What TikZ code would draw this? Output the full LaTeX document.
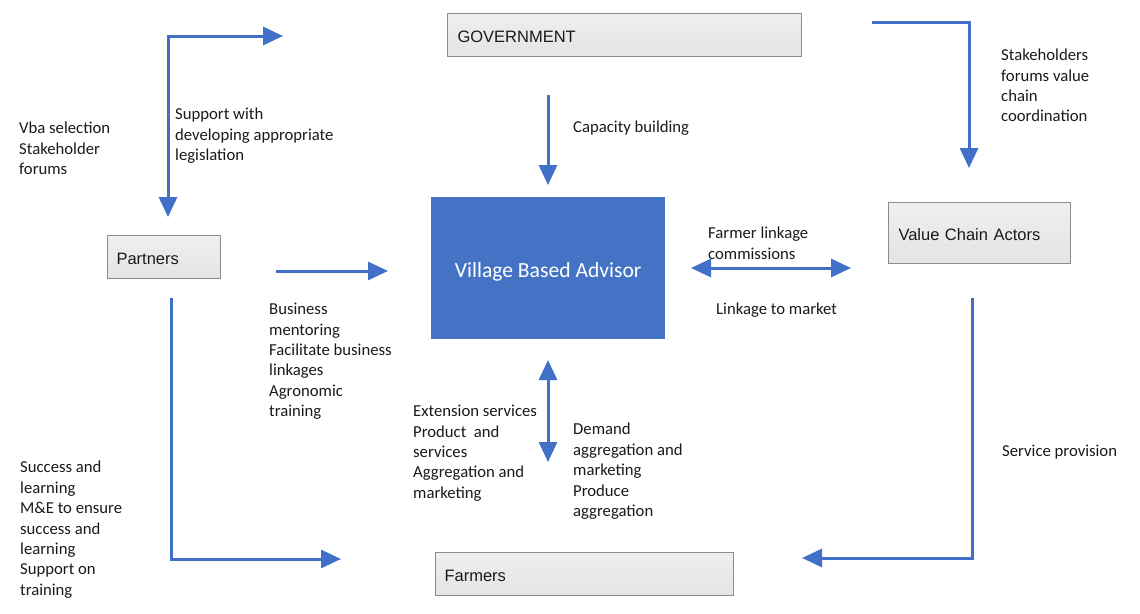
\documentclass[tikz,border=0pt]{standalone}
\usepackage{fontspec}
\setmainfont{Carlito}
\newfontfamily\boxfont{Liberation Sans}
\usetikzlibrary{arrows.meta}
\definecolor{arrowblue}{HTML}{4070C8}
\definecolor{vbablue}{HTML}{4472C4}
\definecolor{boxfill}{HTML}{E4E4E4}
\definecolor{boxline}{HTML}{8C8C8C}
\definecolor{txt}{HTML}{1A1A1A}
\tikzset{
  flow/.style={draw=arrowblue, line width=3pt, -{Triangle[length=20pt,width=18pt]}},
  flowboth/.style={draw=arrowblue, line width=3pt, {Triangle[length=20pt,width=18pt]}-{Triangle[length=20pt,width=18pt]}},
  graybox/.style={draw=boxline, line width=1pt, top color=boxfill!60!white, bottom color=boxfill, anchor=north west,
    font=\boxfont\fontsize{16.5}{19}\selectfont, text=txt, align=left, inner ysep=0pt,
    text height=15.5pt, text depth=0pt},
  lbl/.style={anchor=north west, inner sep=0pt, align=left, text=txt,
    font=\fontsize{16.7}{20.4}\selectfont}
}
\begin{document}
\begin{tikzpicture}[x=1pt,y=-1pt]
\useasboundingbox (0,0) rectangle (1140,613);
\fill[white] (0,0) rectangle (1140,613);

% boxes
\node[graybox, minimum height=43pt, text width=334pt, inner xsep=10pt] (gov) at (447,13) {GOVERNMENT};
\node[graybox, minimum height=43pt, text width=95pt, inner xsep=9pt] (partners) at (107,235) {Partners};
\node[graybox, minimum height=61pt, text width=162pt, inner xsep=10pt] (vca) at (888,202) {Value Chain Actors};
\node[graybox, minimum height=43pt, text width=280pt, inner xsep=9pt] (farmers) at (435,552) {Farmers};
\node[fill=vbablue, anchor=north west, minimum width=234pt, minimum height=142pt, text=white,
  text height=22pt, text depth=3.5pt,
  font=\fontsize{21.6}{24}\selectfont] (vba) at (431,197) {Village Based Advisor};

% connector end points
\coordinate (tlA) at (168,217);
\coordinate (tlB) at (168,36);
\coordinate (tlC) at (283,36);
\coordinate (capA) at (548,95);
\coordinate (capB) at (548,185);
\coordinate (trA) at (872,22);
\coordinate (trB) at (969,22);
\coordinate (trC) at (969,168);
\coordinate (pvA) at (276,271);
\coordinate (pvB) at (388,271);
\coordinate (vcA) at (691,268);
\coordinate (vcB) at (851,268);
\coordinate (blA) at (171,298);
\coordinate (blB) at (171,559);
\coordinate (blC) at (341,559);
\coordinate (brA) at (972,298);
\coordinate (brB) at (972,558);
\coordinate (brC) at (802,558);
\coordinate (vfA) at (548,360);
\coordinate (vfB) at (548,462);

% connectors
\draw[flowboth] (tlA) -- (tlB) -- (tlC);
\draw[flow] (capA) -- (capB);
\draw[flow] (trA) -- (trB) -- (trC);
\draw[flow] (pvA) -- (pvB);
\draw[flowboth] (vcA) -- (vcB);
\draw[flow] (blA) -- (blB) -- (blC);
\draw[flow] (brA) -- (brB) -- (brC);
\draw[flowboth] (vfA) -- (vfB);

% labels
\node[lbl] (l1) at (19,122) {Vba selection\\Stakeholder\\forums};
\node[lbl] (l2) at (175,108) {Support with\\developing appropriate\\legislation};
\node[lbl] (l3) at (573,121) {Capacity building};
\node[lbl] (l4) at (1001,49) {Stakeholders\\forums value\\chain\\coordination};
\node[lbl] (l5) at (708,227) {Farmer linkage\\commissions};
\node[lbl] (l6) at (716,303) {Linkage to market};
\node[lbl] (l7) at (269,303) {Business\\mentoring\\Facilitate business\\linkages\\Agronomic\\training};
\node[lbl] (l8) at (413,405) {Extension services\\Product~ and\\services\\Aggregation and\\marketing};
\node[lbl] (l9) at (573,423) {Demand\\aggregation and\\marketing\\Produce\\aggregation};
\node[lbl] (l10) at (1002,445) {Service provision};
\node[lbl] (l11) at (20,461) {Success and\\learning\\M\&E to ensure\\success and\\learning\\Support on\\training};
\end{tikzpicture}
\end{document}
